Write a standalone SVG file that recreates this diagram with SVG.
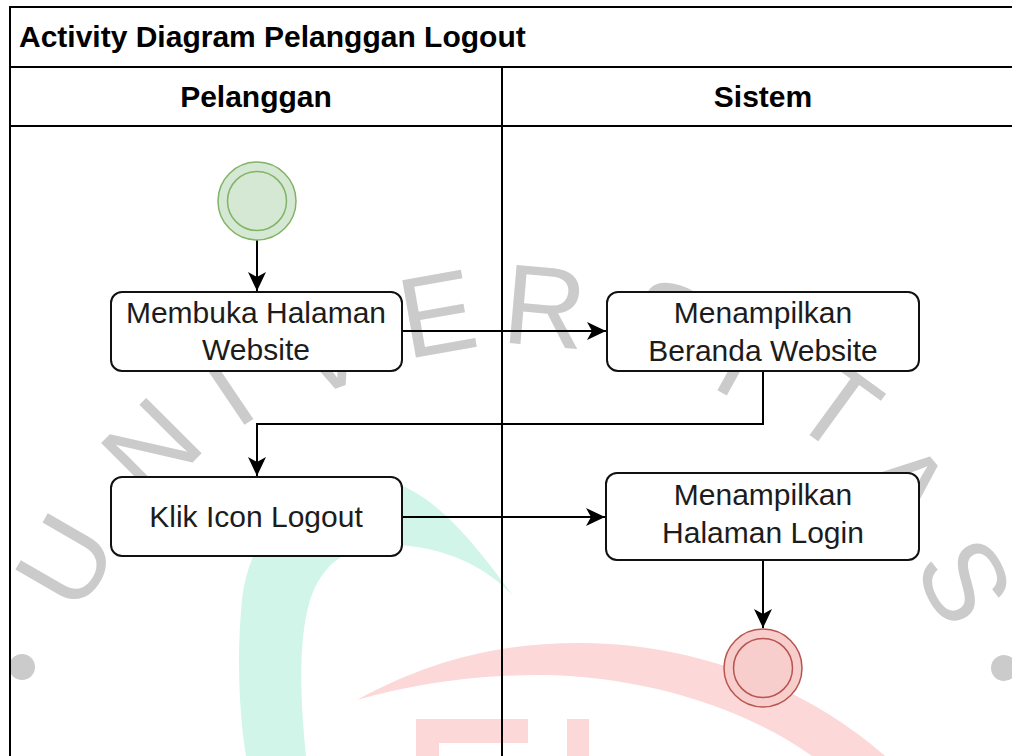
<svg xmlns="http://www.w3.org/2000/svg" width="1012" height="756" viewBox="0 0 1012 756">
  <style>
    .wm { font-family: "Liberation Sans", Arial, sans-serif; font-size: 114px; fill: #cbcbcb; text-anchor: middle; }
    .pool { fill: none; stroke: #000; stroke-width: 2; }
    .act rect { fill: #fff; stroke: #111; stroke-width: 2; }
    .lbl { font-family: "Liberation Sans", Arial, sans-serif; font-size: 30px; fill: #1c1c1c; text-anchor: middle; }
    .hdr { font-family: "Liberation Sans", Arial, sans-serif; font-size: 30px; font-weight: bold; fill: #000; }
    .edge { fill: none; stroke: #000; stroke-width: 2; }
  </style>
  <defs>
    <marker id="arrow" markerUnits="userSpaceOnUse" markerWidth="20" markerHeight="18" refX="19" refY="9" orient="auto">
      <path d="M0 0 L19 9 L0 18 L5 9 Z" fill="#000"/>
    </marker>
  </defs>
  <rect width="1012" height="756" fill="#fff"/>

  <!-- watermark -->
  <g id="watermark">
    <path d="M513 596 C480 550 440 500 400 485 C320 460 250 520 242 600 C236 660 240 720 246 756 L306 756 C300 700 298 640 310 600 C322 565 345 547 380 545 C430 543 480 560 513 596 Z" fill="#d1f5e8"/>
    <path d="M357 700 C430 660 500 643 580 643 C700 643 810 690 885 756 L812 756 C740 705 640 676 540 675 C470 675 410 685 357 700 Z" fill="#fcd8d9"/>
    <path d="M416 719 H528 V743 H439 V756 H416 Z" fill="#fcd8d9"/>
    <rect x="567" y="719" width="22" height="37" fill="#fcd8d9"/>
    <text class="wm" transform="translate(64 560) rotate(-60)" y="41">U</text>
    <text class="wm" transform="translate(150 447) rotate(-45)" y="41">N</text>
    <text class="wm" transform="translate(226 388) rotate(-34)" y="41">I</text>
    <text class="wm" transform="translate(327 348) rotate(-19)" y="41">V</text>
    <text class="wm" transform="translate(437 312) rotate(-10)" y="41">E</text>
    <text class="wm" transform="translate(545 305) rotate(5)" y="41">R</text>
    <text class="wm" transform="translate(668 322) rotate(18)" y="41">S</text>
    <text class="wm" transform="translate(742 357) rotate(29)" y="41">I</text>
    <text class="wm" transform="translate(838 405) rotate(36)" y="41">T</text>
    <text class="wm" transform="translate(905 485) rotate(50)" y="41">A</text>
    <text class="wm" transform="translate(966 580) rotate(62)" y="41">S</text>
    <circle cx="22" cy="667" r="13" fill="#cbcbcb"/>
    <circle cx="1004" cy="668" r="13" fill="#cbcbcb"/>
  </g>

  <!-- pool and lanes -->
  <g id="pool">
    <path class="pool" d="M1030 7 H10 V760"/>
    <line class="pool" x1="10" y1="67" x2="1030" y2="67"/>
    <line class="pool" x1="10" y1="126" x2="1030" y2="126"/>
    <line class="pool" x1="502" y1="67" x2="502" y2="760"/>
    <text class="hdr" x="19" y="47" font-size="31">Activity Diagram Pelanggan Logout</text>
    <text class="hdr" x="256" y="107" text-anchor="middle">Pelanggan</text>
    <text class="hdr" x="763" y="107" text-anchor="middle">Sistem</text>
  </g>

  <!-- connectors -->
  <g id="connectors">
    <path class="edge" d="M257 240 V291" marker-end="url(#arrow)"/>
    <path class="edge" d="M402 331 H606" marker-end="url(#arrow)"/>
    <path class="edge" d="M763 371 V424 H257 V476" marker-end="url(#arrow)"/>
    <path class="edge" d="M402 517 H605" marker-end="url(#arrow)"/>
    <path class="edge" d="M763 560 V628" marker-end="url(#arrow)"/>
  </g>

  <!-- nodes -->
  <g id="start">
    <circle cx="257" cy="201" r="39" fill="#d5e8d4" stroke="#82b366" stroke-width="1.5"/>
    <circle cx="257" cy="201" r="29.5" fill="#d5e8d4" stroke="#82b366" stroke-width="1.5"/>
  </g>
  <g id="membuka" class="act">
    <rect x="111" y="292" width="291" height="79" rx="11"/>
    <text class="lbl" x="256" y="323">Membuka Halaman</text>
    <text class="lbl" x="256" y="360">Website</text>
  </g>
  <g id="beranda" class="act">
    <rect x="607" y="292" width="312" height="79" rx="11"/>
    <text class="lbl" x="763" y="323">Menampilkan</text>
    <text class="lbl" x="763" y="361">Beranda Website</text>
  </g>
  <g id="klik" class="act">
    <rect x="111" y="477" width="291" height="79" rx="11"/>
    <text class="lbl" x="256" y="527">Klik Icon Logout</text>
  </g>
  <g id="login" class="act">
    <rect x="606" y="473" width="313" height="87" rx="11"/>
    <text class="lbl" x="763" y="505">Menampilkan</text>
    <text class="lbl" x="763" y="543">Halaman Login</text>
  </g>
  <g id="end">
    <circle cx="763" cy="668" r="39" fill="#f8cecc" stroke="#b85450" stroke-width="1.5"/>
    <circle cx="763" cy="668" r="29.5" fill="#f8cecc" stroke="#b85450" stroke-width="1.5"/>
  </g>
</svg>
